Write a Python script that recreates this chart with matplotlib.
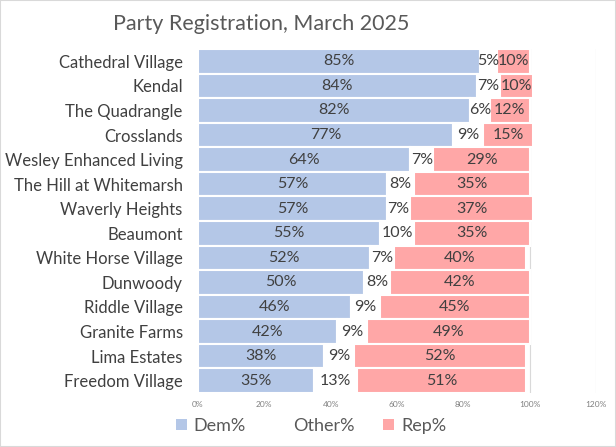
import numpy as np
import matplotlib
matplotlib.use("Agg")
import matplotlib.pyplot as plt
from matplotlib.patches import Patch, Rectangle

plt.rcParams['font.family'] = ['Lato', 'DejaVu Sans']

places = ["Cathedral Village", "Kendal", "The Quadrangle", "Crosslands",
          "Wesley Enhanced Living", "The Hill at Whitemarsh", "Waverly Heights",
          "Beaumont", "White Horse Village", "Dunwoody", "Riddle Village",
          "Granite Farms", "Lima Estates", "Freedom Village"]
dem = [85, 84, 82, 77, 64, 57, 57, 55, 52, 50, 46, 42, 38, 35]
other = [5, 7, 6, 9, 7, 8, 7, 10, 7, 8, 9, 9, 9, 13]
rep = [10, 10, 12, 15, 29, 35, 37, 35, 40, 42, 45, 49, 52, 51]
xticks = [0, 20, 40, 60, 80, 100, 120]

dem_col = '#B4C7E7'
rep_col = '#FFA7A7'
txt = '#404040'

fig = plt.figure(figsize=(6.16, 4.47), dpi=100)
ax = fig.add_axes([198/616, 1-393/447, 398/616, 344/447])

y = np.arange(len(places))
dem = np.array(dem)
other = np.array(other)
rep = np.array(rep)

ax.barh(y, dem, height=1.0, color=dem_col, edgecolor='white', linewidth=1.5, zorder=2)
ax.barh(y, other, left=dem, height=1.0, color='white', edgecolor='white', linewidth=1.5, zorder=2)
ax.barh(y, rep, left=dem+other, height=1.0, color=rep_col, edgecolor='white', linewidth=1.5, zorder=2)

for i in range(len(places)):
    ax.text(dem[i]/2, y[i], f"{dem[i]}%", ha='center', va='center', fontsize=11.5, color=txt, zorder=3)
    ax.text(dem[i] + other[i]/2, y[i], f"{other[i]}%", ha='center', va='center', fontsize=11.5, color=txt, zorder=3)
    ax.text(dem[i] + other[i] + rep[i]/2, y[i], f"{rep[i]}%", ha='center', va='center', fontsize=11.5, color=txt, zorder=3)

ax.set_xlim(0, 120)
ax.set_ylim(len(places)-0.5, -0.5)
ax.set_xticks(xticks)
ax.set_xticklabels([f"{t}%" for t in xticks], fontsize=6, color='#808080')
ax.set_yticks(y)
ax.set_yticklabels(places, fontsize=12, color=txt)
ax.tick_params(axis='both', length=0)
ax.tick_params(axis='y', pad=11)
ax.tick_params(axis='x', pad=6)
ax.xaxis.grid(True, color='#D9D9D9', linewidth=0.8, zorder=0)
ax.set_axisbelow(True)
for sp in ax.spines.values():
    sp.set_visible(False)

fig.text(261/616, 1-24/447, "Party Registration, March 2025", ha='center', va='center',
         fontsize=15.5, color='#595959')

handles = [Patch(facecolor=dem_col, edgecolor='none'),
           Patch(facecolor='white', edgecolor='none'),
           Patch(facecolor=rep_col, edgecolor='none')]
fig.legend(handles, ["Dem%", "Other%", "Rep%"], loc='center', bbox_to_anchor=(0.505, 1-426/447),
           ncol=3, frameon=False, fontsize=13, labelcolor='#595959',
           handlelength=0.6, handleheight=0.6, handletextpad=0.4, columnspacing=1.6)

fig.patches.append(Rectangle((0, 0), 1, 1, transform=fig.transFigure, fill=False,
                             edgecolor='#D9D9D9', linewidth=1.5))

fig.savefig("out.png", dpi=100)
